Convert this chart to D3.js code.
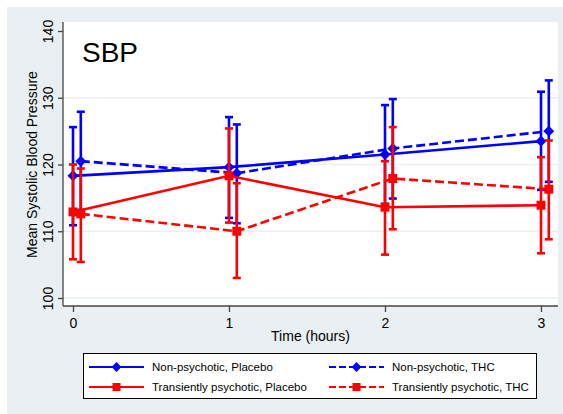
<!DOCTYPE html>
<html>
<head>
<meta charset="utf-8">
<script src="https://cdn.jsdelivr.net/npm/d3@7"></script>
<style>
  body { margin: 0; background: #fff; }
  svg { display: block; font-family: "Liberation Sans", Arial, sans-serif; }
</style>
</head>
<body>
<div id="graph"></div>
<script>
//chart data
const hours = [0, 1, 2, 3];
const xTicks = [0, 1, 2, 3];
const yTicks = [100, 110, 120, 130, 140];
const gridValues = [100, 110, 120, 130];
const thcOffset = 0.05;

const npPlaceboMean = [118.3, 119.6, 121.5, 123.5];
const npPlaceboLow = [110.9, 112.0, 114.1, 116.2];
const npPlaceboHigh = [125.6, 127.1, 128.9, 130.9];

const npThcMean = [120.5, 118.7, 122.4, 125.0];
const npThcLow = [113.2, 111.2, 114.9, 117.4];
const npThcHigh = [127.9, 126.0, 129.8, 132.6];

const tpPlaceboMean = [112.9, 118.3, 113.6, 113.9];
const tpPlaceboLow = [105.8, 111.3, 106.5, 106.7];
const tpPlaceboHigh = [120.0, 125.4, 120.5, 121.1];

const tpThcMean = [112.6, 110.0, 117.9, 116.3];
const tpThcLow = [105.4, 103.0, 110.3, 108.8];
const tpThcHigh = [119.4, 117.2, 125.6, 123.6];

const seriesNames = ["Non-psychotic, Placebo", "Non-psychotic, THC",
    "Transiently psychotic, Placebo", "Transiently psychotic, THC"];

//build series list from the arrays
function makeSeries(name, mean, low, high, shift, color, dashed, diamond){
    return {
        name: name, color: color, dashed: dashed, diamond: diamond,
        points: hours.map(function(h, i){
            return { t: h + shift, mean: mean[i], low: low[i], high: high[i] };
        })
    };
}

const series = [
    makeSeries(seriesNames[0], npPlaceboMean, npPlaceboLow, npPlaceboHigh, 0, "#0000ff", false, true),
    makeSeries(seriesNames[1], npThcMean, npThcLow, npThcHigh, thcOffset, "#0000ff", true, true),
    makeSeries(seriesNames[2], tpPlaceboMean, tpPlaceboLow, tpPlaceboHigh, 0, "#ff0000", false, false),
    makeSeries(seriesNames[3], tpThcMean, tpThcLow, tpThcHigh, thcOffset, "#ff0000", true, false)
];

//diamond = square turned 45 degrees
function markerPath(diamond, size){
    return d3.symbol().type(d3.symbolSquare).size(diamond ? size * 0.75 : size)();
}

const width = 563, height = 414;
const bgColor = "#e9eff2";

const svg = d3.select("#graph").append("svg")
    .attr("width", width)
    .attr("height", height);

//graph region and plot region
svg.append("rect")
    .attr("x", 7).attr("y", 7)
    .attr("width", width - 7).attr("height", height - 7)
    .attr("fill", bgColor);

const plot = { left: 63, right: 558, top: 22, bottom: 306 };

svg.append("rect")
    .attr("x", plot.left).attr("y", plot.top)
    .attr("width", plot.right - plot.left).attr("height", plot.bottom - plot.top)
    .attr("fill", "#fff");

//scales
const x = d3.scaleLinear().domain([0, 3]).range([73, 541]);
const y = d3.scaleLinear().domain([100, 140]).range([298, 31]);

//gridlines
svg.append("g").selectAll("line")
    .data(gridValues)
    .enter().append("line")
    .attr("x1", plot.left).attr("x2", plot.right)
    .attr("y1", function(d){ return y(d); })
    .attr("y2", function(d){ return y(d); })
    .attr("stroke", bgColor)
    .attr("stroke-width", 1.5);

//y axis
const yAxis = svg.append("g")
    .attr("transform", "translate(" + plot.left + ",0)")
    .call(d3.axisLeft(y).tickValues(yTicks).tickSize(5).tickSizeOuter(0));

yAxis.select(".domain").attr("d", "M0," + plot.top + "V" + plot.bottom);

yAxis.selectAll("text")
    .attr("transform", "rotate(-90)")
    .attr("x", 0)
    .attr("y", -10)
    .attr("dy", null)
    .attr("text-anchor", "middle")
    .attr("font-size", "14px")
    .attr("fill", "#000");

//x axis
const xAxis = svg.append("g")
    .attr("transform", "translate(0," + plot.bottom + ")")
    .call(d3.axisBottom(x).tickValues(xTicks).tickSize(6).tickSizeOuter(0)
        .tickFormat(d3.format("d")));

xAxis.select(".domain").attr("d", "M" + plot.left + ",0H" + plot.right);

xAxis.selectAll("text")
    .attr("y", 22)
    .attr("dy", null)
    .attr("font-size", "14px")
    .attr("fill", "#000");

svg.selectAll(".domain, .tick line")
    .attr("stroke", "#444")
    .attr("stroke-width", 1.3);

//axis titles
svg.append("text")
    .attr("x", (plot.left + plot.right) / 2)
    .attr("y", 341)
    .attr("text-anchor", "middle")
    .attr("font-size", "14px")
    .text("Time (hours)");

svg.append("text")
    .attr("transform", "translate(37," + y(120) + ") rotate(-90)")
    .attr("text-anchor", "middle")
    .attr("font-size", "14px")
    .text("Mean Systolic Blood Pressure");

//panel label
svg.append("text")
    .attr("x", 82)
    .attr("y", 62)
    .attr("font-size", "28px")
    .text("SBP");

//series: lines, error bars, markers
const lineGen = d3.line()
    .x(function(d){ return x(d.t); })
    .y(function(d){ return y(d.mean); });

const capHalf = 4;

series.forEach(function(s){
    const g = svg.append("g");

    g.append("path")
        .attr("d", lineGen(s.points))
        .attr("fill", "none")
        .attr("stroke", s.color)
        .attr("stroke-width", 2.6)
        .attr("stroke-dasharray", s.dashed ? "9,4" : null);

    const bars = g.selectAll(".bar")
        .data(s.points)
        .enter().append("g");

    bars.append("line")
        .attr("x1", function(d){ return x(d.t); })
        .attr("x2", function(d){ return x(d.t); })
        .attr("y1", function(d){ return y(d.low); })
        .attr("y2", function(d){ return y(d.high); });

    bars.append("line")
        .attr("x1", function(d){ return x(d.t) - capHalf; })
        .attr("x2", function(d){ return x(d.t) + capHalf; })
        .attr("y1", function(d){ return y(d.low); })
        .attr("y2", function(d){ return y(d.low); });

    bars.append("line")
        .attr("x1", function(d){ return x(d.t) - capHalf; })
        .attr("x2", function(d){ return x(d.t) + capHalf; })
        .attr("y1", function(d){ return y(d.high); })
        .attr("y2", function(d){ return y(d.high); });

    bars.selectAll("line")
        .attr("stroke", s.color)
        .attr("stroke-width", 2.6);

    g.selectAll(".mark")
        .data(s.points)
        .enter().append("path")
        .attr("transform", function(d){
            return "translate(" + x(d.t) + "," + y(d.mean) + ")" + (s.diamond ? " rotate(45)" : "");
        })
        .attr("d", markerPath(s.diamond, 80))
        .attr("fill", s.color);
});

//legend
const legend = svg.append("g");

legend.append("rect")
    .attr("x", 83.5).attr("y", 353.5)
    .attr("width", 453).attr("height", 45)
    .attr("fill", "#fff")
    .attr("stroke", "#000")
    .attr("stroke-width", 1);

const legendPos = [
    { x: 89, y: 367 }, { x: 329, y: 367 },
    { x: 89, y: 387 }, { x: 329, y: 387 }
];

series.forEach(function(s, i){
    const p = legendPos[i];
    const item = legend.append("g")
        .attr("transform", "translate(" + p.x + "," + p.y + ")");

    item.append("line")
        .attr("x1", 0).attr("x2", 55)
        .attr("y1", 0).attr("y2", 0)
        .attr("stroke", s.color)
        .attr("stroke-width", 2)
        .attr("stroke-dasharray", s.dashed ? "7,3" : null);

    item.append("path")
        .attr("transform", "translate(27.5,0)" + (s.diamond ? " rotate(45)" : ""))
        .attr("d", markerPath(s.diamond, 64))
        .attr("fill", s.color);

    item.append("text")
        .attr("x", 63)
        .attr("y", 4)
        .attr("font-size", "11.5px")
        .text(s.name);
});
</script>
</body>
</html>
